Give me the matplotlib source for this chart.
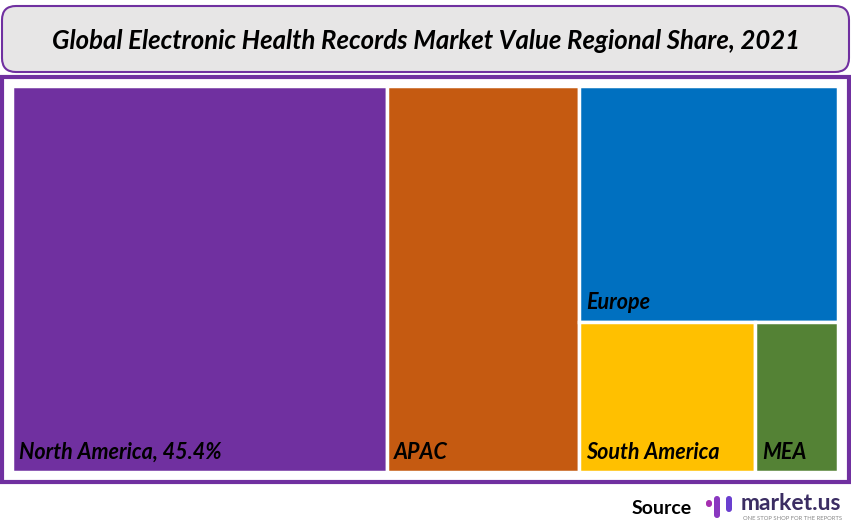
import matplotlib.pyplot as plt
from matplotlib.patches import FancyBboxPatch, Rectangle

regions = ["North America", "APAC", "Europe", "South America", "MEA"]
shares = [45.4, 23.3, 19.1, 8.3, 3.9]
labels = ["North America, 45.4%", "APAC", "Europe", "South America", "MEA"]
colors = ["#7030a0", "#c55a11", "#0070c0", "#ffc000", "#548235"]

title = "Global Electronic Health Records Market Value Regional Share, 2021"
FONT = ["Lato", "DejaVu Sans"]
PURPLE = "#7030a0"

W, H = 851, 525
fig = plt.figure(figsize=(W / 100, H / 100), dpi=100)
bg = fig.add_axes([0, 0, 1, 1])
bg.set_xlim(0, W)
bg.set_ylim(H, 0)
bg.axis("off")

# title box
bg.add_patch(FancyBboxPatch((2, 6), W - 4, 66, boxstyle="round,pad=0,rounding_size=14",
                            facecolor="#e7e6e6", edgecolor=PURPLE, linewidth=1.5))
bg.text(W / 2, 41, title, ha="center", va="center", fontsize=18.5, fontweight="bold",
        fontstyle="italic", family=FONT, color="black")

# outer frame
bg.add_patch(Rectangle((2, 77), W - 4, 405, facecolor="white", edgecolor=PURPLE, linewidth=3))

# treemap area
x0, y0, x1, y1 = 12, 86, 838, 472
tm = fig.add_axes([x0 / W, 1 - y1 / H, (x1 - x0) / W, (y1 - y0) / H])
total = sum(shares)
tm.set_xlim(0, total)
tm.set_ylim(0, 1)
tm.axis("off")

# layout: first two as full-height columns, rest stacked in the right column
rects = []
x = 0
for v in shares[:2]:
    rects.append((x, 0, v, 1))
    x += v
rest = sum(shares[2:])
colw = total - x
top_h = shares[2] / rest
rects.append((x, 1 - top_h, colw, top_h))
bottom = sum(shares[3:])
bx = x
for v in shares[3:]:
    w = colw * v / bottom
    rects.append((bx, 0, w, 1 - top_h))
    bx += w

for (rx, ry, rw, rh), c, lab in zip(rects, colors, labels):
    tm.add_patch(Rectangle((rx, ry), rw, rh, facecolor=c, edgecolor="white", linewidth=2.5))
    tm.annotate(lab, xy=(rx, ry), xytext=(7, 9), textcoords="offset pixels",
                ha="left", va="bottom", fontsize=15.5, fontweight="bold", fontstyle="italic",
                family=FONT, color="black")

# source + logo
bg.text(692, 508, "Source", ha="right", va="center", fontsize=14, fontweight="bold",
        family=FONT, color="black")
for bx_, top_, h_, c_ in [(706, 500, 7, "#a62fb0"), (714, 496, 22, "#8a38c0"), (726, 496, 16, "#6a3fcf")]:
    bg.add_patch(FancyBboxPatch((bx_, top_), 6, h_, boxstyle="round,pad=0,rounding_size=3",
                                facecolor=c_, edgecolor="none"))
bg.text(741, 504, "market.us", ha="left", va="center", fontsize=16.5, fontweight="bold",
        family=FONT, color="#3b2d63")
bg.text(743, 518, "ONE STOP SHOP FOR THE REPORTS", ha="left", va="center", fontsize=4.2,
        family=FONT, color="#888888")

fig.savefig("out.png", dpi=100)
